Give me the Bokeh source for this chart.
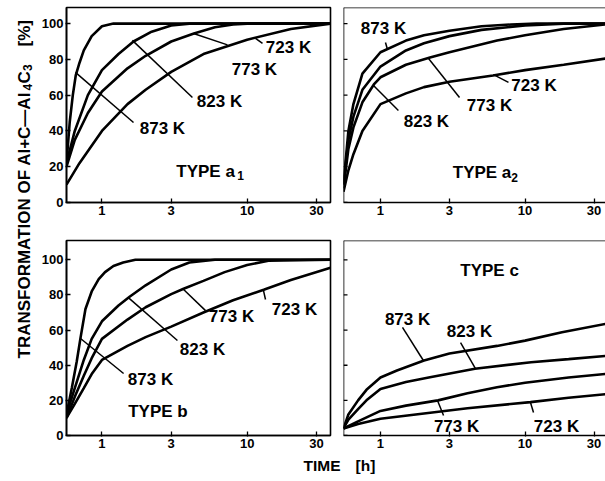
import math
from bokeh.plotting import figure
from bokeh.layouts import row, column
from bokeh.models import Range1d, FixedTicker, NumeralTickFormatter, Span
from bokeh.core.properties import value
from bokeh.embed import file_html
from bokeh.resources import INLINE

FONT = "Liberation Sans"

# ---------------- data (time in h, transformation in %) ----------------
X_TICKS = [1, 3, 10, 30]
Y_TICKS = [0, 20, 40, 60, 80, 100]

# TYPE a1
T_a1_873 = [0.57, 0.6, 0.63, 0.66, 0.7, 0.75, 0.85, 1.0, 1.2, 37.5]
Y_a1_873 = [22, 45, 60, 71, 78, 85, 93, 98.5, 100, 100]
T_a1_823 = [0.57, 0.65, 0.8, 1.0, 1.3, 1.65, 2.2, 3.0, 4.0, 37.5]
Y_a1_823 = [22, 40, 60, 74, 83, 90, 95.5, 99, 100, 100]
T_a1_773 = [0.57, 0.65, 0.8, 1.0, 1.5, 2.0, 3.0, 4.3, 6.0, 8.0, 10.0, 37.5]
Y_a1_773 = [20, 35, 50, 62, 75, 82, 90, 94.5, 98, 99.5, 100, 100]
T_a1_723 = [0.57, 0.7, 1.0, 1.5, 2.0, 3.0, 5.0, 10.0, 20.0, 37.5]
Y_a1_723 = [10, 22, 40, 55, 63, 73, 83, 91, 97, 100]

# TYPE a2
T_a2_873 = [0.555, 0.6, 0.65, 0.75, 1.0, 1.5, 2.0, 3.0, 5.0, 8.0, 12.0, 36]
Y_a2_873 = [10, 40, 55, 72, 84, 90.5, 93.5, 96, 98.5, 99.5, 100, 100]
T_a2_823 = [0.555, 0.6, 0.65, 0.75, 1.0, 1.5, 2.0, 3.0, 5.0, 10.0, 18.5, 36]
Y_a2_823 = [10, 35, 48, 63, 76, 85, 89, 93, 96.5, 99, 100, 100]
T_a2_773 = [0.555, 0.6, 0.65, 0.75, 0.9, 1.0, 1.5, 2.2, 3.0, 6.4, 10.0, 18.5, 36]
Y_a2_773 = [8, 30, 42, 56, 66, 70, 77, 81, 84, 90.5, 93.5, 97, 99.5]
T_a2_723 = [0.555, 0.6, 0.65, 0.75, 1.0, 1.5, 2.0, 3.0, 6.0, 10.0, 18.5, 36]
Y_a2_723 = [6, 18, 27, 40, 55, 61, 64.5, 67.5, 71, 74, 77, 80.5]

# TYPE b
T_b_873 = [0.57, 0.62, 0.67, 0.71, 0.77, 0.85, 0.95, 1.05, 1.2, 1.4, 1.7, 37.5]
Y_b_873 = [12, 27, 42, 55, 72, 82, 89, 93, 96.5, 98.5, 100, 100]
T_b_823 = [0.57, 0.65, 0.75, 0.85, 1.0, 1.3, 1.55, 2.0, 3.0, 4.0, 6.0, 37.5]
Y_b_823 = [12, 27, 43, 55, 65, 74, 79, 85.5, 94.5, 98.5, 100, 100]
T_b_773 = [0.57, 0.65, 0.75, 0.85, 1.0, 1.5, 2.0, 3.0, 3.65, 5.0, 7.0, 10.0, 14.0, 37.5]
Y_b_773 = [10, 22, 34, 44, 55, 66, 73, 80.5, 83.5, 88, 93, 97, 99.5, 100]
T_b_723 = [0.57, 0.65, 0.75, 0.85, 1.0, 1.5, 2.0, 3.0, 5.0, 8.0, 13.0, 20.0, 37.5]
Y_b_723 = [10, 18, 27, 35, 43, 51, 56, 62, 70, 77, 83, 88.5, 95.5]

# TYPE c
T_c_873 = [0.555, 0.6, 0.7, 0.8, 1.0, 1.3, 2.0, 3.0, 6.4, 10.0, 18.0, 36]
Y_c_873 = [4, 12, 20, 26, 33, 37, 42.7, 46.7, 51, 54, 58.8, 63.5]
T_c_823 = [0.555, 0.6, 0.7, 0.8, 1.0, 1.5, 2.2, 4.5, 11.0, 20.0, 36]
Y_c_823 = [4, 9, 15, 20, 26.5, 30.5, 33.2, 38, 41.7, 43.5, 45.3]
T_c_773 = [0.555, 0.7, 1.0, 1.5, 2.5, 4.0, 6.4, 10.0, 20.0, 36]
Y_c_773 = [4, 8, 14, 17, 20, 24, 27.5, 30, 33, 35]
T_c_723 = [0.555, 0.7, 1.0, 2.0, 4.0, 10.9, 20.0, 36]
Y_c_723 = [4, 6.5, 9.5, 12.5, 15.5, 19, 21.5, 23.5]

# curve labels: text, position (t, %), leader line (t0, y0, t1, y1)
LAB_a1 = ["723 K", "773 K", "823 K", "873 K"]
LAB_a1_T = [19.27, 11.23, 6.45, 2.61]
LAB_a1_Y = [86.9, 74.6, 56.2, 41.1]
LEAD_a1 = ([12.76, 7.32, 4.20, 1.65], [88.9, 88.1, 58.7, 44.7],
           [11.42, 4.27, 1.62, 0.657], [91.7, 94.5, 90.6, 72.7])

LAB_a2 = ["873 K", "723 K", "773 K", "823 K"]
LAB_a2_T = [1.049, 11.53, 5.68, 2.08]
LAB_a2_Y = [97.5, 65.4, 54.5, 45.0]
LEAD_a2 = ([1.083, 7.68, 3.52, 1.33], [89.4, 67.1, 58.7, 51.4],
           [1.118, 6.05, 2.15, 0.895], [85.5, 71.5, 80.5, 65.4])

LAB_b = ["723 K", "773 K", "823 K", "873 K"]
LAB_b_T = [21.2, 7.80, 4.93, 2.16]
LAB_b_Y = [72.0, 68.0, 49.2, 31.6]
LEAD_b = ([13.38, 5.17, 3.31, 1.41], [77.4, 71.1, 54.1, 35.3],
          [12.96, 3.59, 1.52, 0.712], [82.5, 83.7, 78.5, 55.2])

LAB_c = ["873 K", "823 K", "773 K", "723 K"]
LAB_c_T = [1.54, 4.13, 3.36, 16.5]
LAB_c_Y = [66.3, 59.2, 5.1, 5.1]
LEAD_c = ([1.42, 3.58, 2.73, 11.44], [61.5, 52.9, 11.4, 13.1],
          [1.98, 4.54, 2.48, 10.9], [42.7, 38.1, 19.9, 18.8])

TYPE_LABELS = {"a1": ("TYPE a", 5.17, 17.3, "1", 9.0, 15.1),
               "a2": ("TYPE a", 5.04, 17.0, "2", 8.45, 13.7),
               "b": ("TYPE b", 2.43, 13.4, None, None, None),
               "c": ("TYPE c", 5.68, 93.9, None, None, None)}


def panel(width, height, xr, yr, borders, left_panel):
    bl, br, bt, bb = borders
    p = figure(width=width, height=height, x_axis_type="log",
               x_range=Range1d(*xr), y_range=Range1d(*yr),
               output_backend="svg", toolbar_location=None,
               min_border_left=bl, min_border_right=br,
               min_border_top=bt, min_border_bottom=bb,
               y_axis_location="left" if left_panel else None)
    p.grid.visible = False
    p.background_fill_color = "white"
    p.border_fill_color = "white"
    if left_panel:
        p.outline_line_color = "black"
        p.outline_line_width = 1.6
    else:
        # open on the right: top and left edges plus inner tick marks only
        p.outline_line_color = None
        p.add_layout(Span(location=yr[1], dimension="width",
                          line_color="black", line_width=1.6))
        p.add_layout(Span(location=xr[0], dimension="height",
                          line_color="black", line_width=1.6))
        tick_end = xr[0] * 10 ** (4.0 / 144.6)
        p.segment(x0=[xr[0]] * len(Y_TICKS), y0=Y_TICKS,
                  x1=[tick_end] * len(Y_TICKS), y1=Y_TICKS,
                  line_color="black", line_width=1.3)
    p.xaxis.ticker = FixedTicker(ticks=X_TICKS, minor_ticks=[])
    p.xaxis.formatter = NumeralTickFormatter(format="0")
    axes = [p.xaxis[0]]
    if left_panel:
        p.yaxis.ticker = FixedTicker(ticks=Y_TICKS, minor_ticks=[])
        axes.append(p.yaxis[0])
    for ax in axes:
        ax.axis_line_width = 1.6
        ax.axis_line_color = "black"
        ax.major_tick_in = 4
        ax.major_tick_out = 1
        ax.major_tick_line_width = 1.3
        ax.minor_tick_line_color = None
        ax.major_label_text_font = FONT
        ax.major_label_text_font_style = "bold"
        ax.major_label_text_font_size = "13px"
        ax.major_label_text_color = "black"
        ax.major_label_standoff = 2
    return p


def add_curves(p, curves):
    for t, y in curves:
        p.line(t, y, line_color="black", line_width=2.6)


def add_labels(p, texts, ts, ys, leads, key):
    x0, y0, x1, y1 = leads
    p.segment(x0=x0, y0=y0, x1=x1, y1=y1, line_color="black", line_width=1.5)
    p.text(x=ts, y=ys, text=texts, text_font=value(FONT), text_font_size="17px",
           text_font_style="bold", text_align="center", text_baseline="middle",
           text_color="black")
    main, tx, ty, sub, sx, sy = TYPE_LABELS[key]
    p.text(x=[tx], y=[ty], text=[main], text_font=value(FONT), text_font_size="17px",
           text_font_style="bold", text_align="center", text_baseline="middle",
           text_color="black")
    if sub:
        p.text(x=[sx], y=[sy], text=[sub], text_font=value(FONT), text_font_size="12px",
               text_font_style="bold", text_align="center", text_baseline="middle",
               text_color="black")


XR_L = (0.57, 37.5)
XR_R = (0.555, 36)
YR_TOP = (0, 109)
YR_BOT = (0, 111)

pa1 = panel(300, 232, XR_L, YR_TOP, (30, 6, 7, 30), True)
add_curves(pa1, [(T_a1_873, Y_a1_873), (T_a1_823, Y_a1_823),
                 (T_a1_773, Y_a1_773), (T_a1_723, Y_a1_723)])
add_labels(pa1, LAB_a1, LAB_a1_T, LAB_a1_Y, LEAD_a1, "a1")

pa2 = panel(269, 232, XR_R, YR_TOP, (7, 0, 7, 30), False)
add_curves(pa2, [(T_a2_873, Y_a2_873), (T_a2_823, Y_a2_823),
                 (T_a2_773, Y_a2_773), (T_a2_723, Y_a2_723)])
add_labels(pa2, LAB_a2, LAB_a2_T, LAB_a2_Y, LEAD_a2, "a2")

pb = panel(300, 220, XR_L, YR_BOT, (30, 6, 8, 17), True)
add_curves(pb, [(T_b_873, Y_b_873), (T_b_823, Y_b_823),
                (T_b_773, Y_b_773), (T_b_723, Y_b_723)])
add_labels(pb, LAB_b, LAB_b_T, LAB_b_Y, LEAD_b, "b")

pc = panel(269, 220, XR_R, YR_BOT, (7, 0, 8, 17), False)
add_curves(pc, [(T_c_873, Y_c_873), (T_c_823, Y_c_823),
                (T_c_773, Y_c_773), (T_c_723, Y_c_723)])
add_labels(pc, LAB_c, LAB_c_T, LAB_c_Y, LEAD_c, "c")

# y-axis title strip (pixel coordinates)
pl = figure(width=36, height=478, x_range=Range1d(0, 36), y_range=Range1d(0, 478),
            output_backend="svg", toolbar_location=None, min_border=0,
            x_axis_location=None, y_axis_location=None)
pl.grid.visible = False
pl.outline_line_color = None
YT_MAIN = ["TRANSFORMATION OF Al+C\u2014Al", "C", "[%]"]
YT_SUB = ["4", "3"]
pl.text(x=[24, 24, 24], y=[120, 395, 432], text=YT_MAIN, angle=math.pi / 2,
        text_font=value(FONT), text_font_size="17px", text_font_style="bold",
        text_align="left", text_baseline="alphabetic", text_color="black")
pl.text(x=[27, 27], y=[388, 407.5], text=YT_SUB, angle=math.pi / 2,
        text_font=value(FONT), text_font_size="12px", text_font_style="bold",
        text_align="left", text_baseline="alphabetic", text_color="black")

# x-axis title strip
pt = figure(width=569, height=26, x_range=Range1d(0, 569), y_range=Range1d(0, 26),
            output_backend="svg", toolbar_location=None, min_border=0,
            x_axis_location=None, y_axis_location=None)
pt.grid.visible = False
pt.outline_line_color = None
pt.text(x=[267, 319], y=[13, 13], text=["TIME", "[h]"], text_font=value(FONT),
        text_font_size="15.5px", text_font_style="bold", text_align="left",
        text_baseline="middle", text_color="black")

layout = row(pl, column(row(pa1, pa2), row(pb, pc), pt))
open("out.html", "w").write(file_html(layout, INLINE))
